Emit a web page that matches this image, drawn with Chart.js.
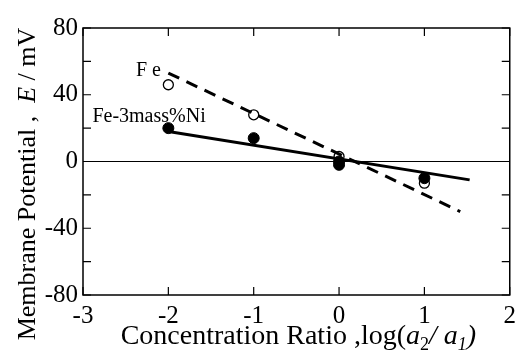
<!DOCTYPE html>
<html>
<head>
<meta charset="utf-8">
<script src="https://cdn.jsdelivr.net/npm/chart.js@4/dist/chart.umd.min.js"></script>
<style>
  html, body { margin: 0; padding: 0; background: #fff; }
</style>
</head>
<body>
<canvas id="chart" width="522" height="356"></canvas>
<script>
// measured points, log(a2/a1) vs membrane potential (mV)
const feX = [-2, -1, 0, 1];
const feE = [46, 28, 3, -13];
const niX = [-2, -1, 0, 0, 1];
const niE = [20, 14, 0, -2, -10];
// fitted lines (end points)
const feLineX = [-2, 1.42];
const feLineE = [53, -30];
const niLineX = [-2, 1.53];
const niLineE = [18, -11];
// axes
const xTicks = [-3, -2, -1, 0, 1, 2];
const yTicks = [-80, -60, -40, -20, 0, 20, 40, 60, 80];
const yLabelled = [-80, -40, 0, 40, 80];

const SERIF = '"Liberation Serif", "Times New Roman", serif';

const toPts = (xs, ys) => xs.map((x, i) => ({ x: x, y: ys[i] }));

const frame = {
  id: 'frame',
  beforeDatasetsDraw(chart) {
    const { ctx, chartArea: a, scales: { x, y } } = chart;
    ctx.save();
    ctx.strokeStyle = '#000';
    // zero line
    ctx.lineWidth = 1;
    ctx.beginPath();
    ctx.moveTo(a.left, y.getPixelForValue(0));
    ctx.lineTo(a.right, y.getPixelForValue(0));
    ctx.stroke();
    // inner ticks on all four sides
    ctx.lineWidth = 1.2;
    ctx.beginPath();
    xTicks.forEach(v => {
      const px = x.getPixelForValue(v);
      ctx.moveTo(px, a.bottom); ctx.lineTo(px, a.bottom - 8);
      ctx.moveTo(px, a.top); ctx.lineTo(px, a.top + 8);
    });
    yTicks.forEach(v => {
      const py = y.getPixelForValue(v);
      ctx.moveTo(a.left, py); ctx.lineTo(a.left + 8, py);
      ctx.moveTo(a.right, py); ctx.lineTo(a.right - 8, py);
    });
    ctx.stroke();
    ctx.lineWidth = 1.5;
    ctx.strokeRect(a.left, a.top, a.right - a.left, a.bottom - a.top);
    ctx.restore();
  },
  afterDraw(chart) {
    const { ctx, chartArea: a, scales: { x, y } } = chart;
    ctx.save();
    ctx.fillStyle = '#000';
    ctx.textBaseline = 'alphabetic';

    // series labels
    ctx.font = '20px ' + SERIF;
    ctx.fillText('F e', x.getPixelForValue(-2.38), y.getPixelForValue(51.5));
    ctx.fillText('Fe-3mass%Ni', x.getPixelForValue(-2.89), y.getPixelForValue(23.4));

    // rich text helper
    const drawParts = (parts, cx, cy, rotate) => {
      let total = 0;
      parts.forEach(p => { ctx.font = p.font; p.w = ctx.measureText(p.t).width; total += p.w; });
      ctx.save();
      ctx.translate(cx, cy);
      if (rotate) ctx.rotate(-Math.PI / 2);
      let pos = -total / 2;
      parts.forEach(p => {
        ctx.font = p.font;
        ctx.fillText(p.t, pos, p.dy || 0);
        pos += p.w;
      });
      ctx.restore();
    };

    const n = '28px ' + SERIF;
    const it = 'italic 28px ' + SERIF;
    const sub = 'italic 18px ' + SERIF;
    drawParts([
      { t: 'Concentration Ratio ,log(', font: n },
      { t: 'a', font: it },
      { t: '2', font: '18px ' + SERIF, dy: 6 },
      { t: '/ ', font: it },
      { t: 'a', font: it },
      { t: '1', font: sub, dy: 6 },
      { t: ')', font: it }
    ], (a.left + a.right) / 2 + 2, 344, false);

    const yn = '26px ' + SERIF;
    drawParts([
      { t: 'Membrane Potential ,  ', font: yn },
      { t: 'E', font: 'italic 26px ' + SERIF },
      { t: ' / mV', font: yn }
    ], 35, 184, true);
    ctx.restore();
  }
};

new Chart(document.getElementById('chart'), {
  type: 'scatter',
  data: {
    datasets: [
      {
        label: 'Fe line',
        type: 'line',
        data: toPts(feLineX, feLineE),
        borderColor: '#000',
        borderWidth: 3,
        borderDash: [12, 8],
        pointRadius: 0,
        fill: false
      },
      {
        label: 'Fe-3mass%Ni line',
        type: 'line',
        data: toPts(niLineX, niLineE),
        borderColor: '#000',
        borderWidth: 3,
        pointRadius: 0,
        fill: false
      },
      {
        label: 'Fe-3mass%Ni',
        data: toPts(niX, niE),
        pointRadius: 5.5,
        pointBackgroundColor: '#000',
        pointBorderColor: '#000',
        pointBorderWidth: 1
      },
      {
        label: 'Fe',
        data: toPts(feX, feE),
        pointRadius: 5,
        pointBackgroundColor: '#fff',
        pointBorderColor: '#000',
        pointBorderWidth: 1.3
      }
    ]
  },
  options: {
    responsive: false,
    animation: false,
    devicePixelRatio: 1,
    layout: { padding: { top: 28, right: 10, left: 0, bottom: 0 } },
    plugins: {
      legend: { display: false },
      tooltip: { enabled: false }
    },
    scales: {
      x: {
        type: 'linear',
        min: -3,
        max: 2,
        afterFit: s => { s.height = 61; },
        afterBuildTicks: s => { s.ticks = xTicks.map(v => ({ value: v })); },
        grid: { display: false, drawTicks: false },
        border: { display: false },
        ticks: {
          color: '#000',
          padding: 6,
          font: { family: SERIF, size: 25 },
          callback: v => String(v)
        }
      },
      y: {
        type: 'linear',
        min: -80,
        max: 80,
        afterFit: s => { s.width = 83; },
        afterBuildTicks: s => { s.ticks = yLabelled.map(v => ({ value: v })); },
        grid: { display: false, drawTicks: false },
        border: { display: false },
        ticks: {
          color: '#000',
          padding: 5,
          font: { family: SERIF, size: 25 },
          callback: v => String(v)
        }
      }
    }
  },
  plugins: [frame]
});
</script>
</body>
</html>
